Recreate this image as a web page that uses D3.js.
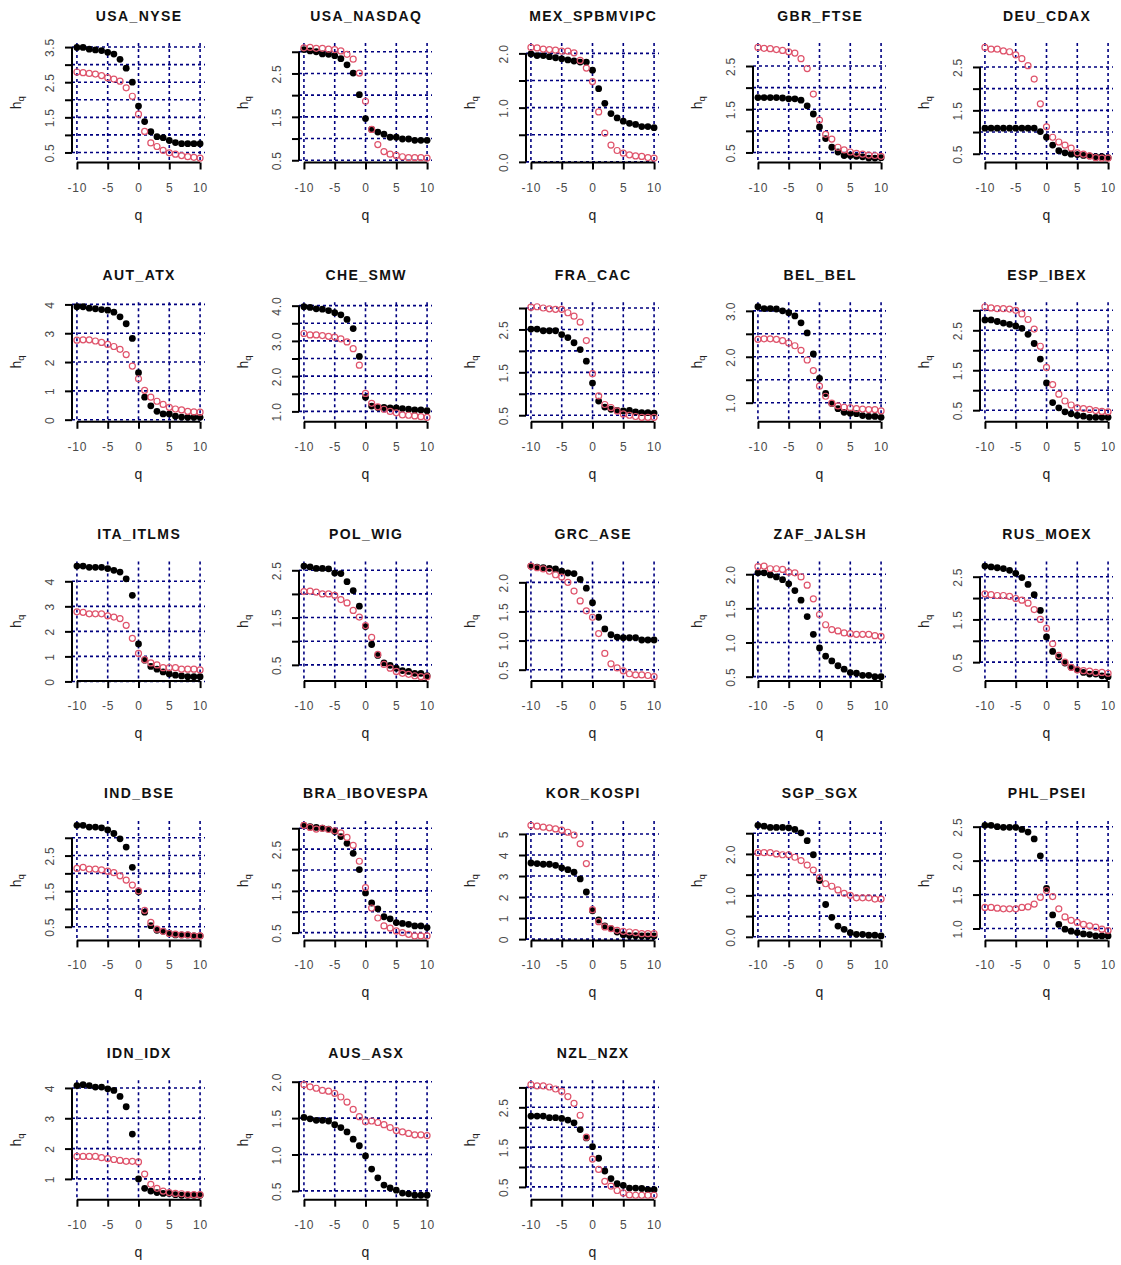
<!DOCTYPE html>
<html><head><meta charset="utf-8">
<script src="https://cdn.jsdelivr.net/npm/d3@7"></script>
<style>body{margin:0;background:#fff}</style>
</head><body>
<svg id="chart" width="1121" height="1265"></svg>
<script>
const qValues = [-10,-9,-8,-7,-6,-5,-4,-3,-2,-1,0,1,2,3,4,5,6,7,8,9,10];
const xTicks = [-10,-5,0,5,10];
const markets = ["USA_NYSE","USA_NASDAQ","MEX_SPBMVIPC","GBR_FTSE","DEU_CDAX","AUT_ATX","CHE_SMW","FRA_CAC","BEL_BEL","ESP_IBEX","ITA_ITLMS","POL_WIG","GRC_ASE","ZAF_JALSH","RUS_MOEX","IND_BSE","BRA_IBOVESPA","KOR_KOSPI","SGP_SGX","PHL_PSEI","IDN_IDX","AUS_ASX","NZL_NZX"];

const USA_NYSE_black = [3.49,3.49,3.44,3.42,3.40,3.35,3.30,3.15,2.90,2.50,1.82,1.38,1.09,0.95,0.92,0.84,0.78,0.75,0.75,0.75,0.75];
const USA_NYSE_red = [2.79,2.77,2.75,2.73,2.69,2.63,2.59,2.53,2.34,2.10,1.59,1.10,0.77,0.67,0.56,0.49,0.45,0.41,0.38,0.36,0.34];
const USA_NASDAQ_black = [3.05,3.02,3.00,2.95,2.94,2.91,2.84,2.70,2.51,2.01,1.46,1.21,1.15,1.10,1.03,1.03,0.99,0.99,0.96,0.96,0.96];
const USA_NASDAQ_red = [3.09,3.10,3.08,3.08,3.06,3.05,3.02,2.94,2.83,2.51,1.86,1.21,0.86,0.70,0.64,0.61,0.58,0.56,0.56,0.56,0.55];
const MEX_black = [1.99,1.96,1.96,1.94,1.92,1.90,1.88,1.86,1.84,1.84,1.69,1.35,1.08,0.89,0.81,0.75,0.71,0.69,0.65,0.65,0.63];
const MEX_red = [2.11,2.10,2.08,2.07,2.06,2.04,2.04,2.01,1.87,1.73,1.48,0.92,0.53,0.31,0.21,0.16,0.13,0.11,0.10,0.08,0.07];
const GBR_black = [1.77,1.77,1.77,1.77,1.76,1.74,1.74,1.71,1.58,1.39,1.09,0.82,0.62,0.51,0.43,0.43,0.41,0.40,0.37,0.37,0.38];
const GBR_red = [2.93,2.91,2.90,2.88,2.86,2.83,2.80,2.67,2.44,1.85,1.25,0.92,0.81,0.62,0.56,0.51,0.48,0.46,0.44,0.43,0.41];
const DEU_black = [1.09,1.09,1.09,1.09,1.09,1.09,1.09,1.09,1.09,1.01,0.88,0.70,0.57,0.52,0.49,0.48,0.46,0.45,0.43,0.43,0.41];
const DEU_red = [2.95,2.91,2.91,2.87,2.85,2.78,2.69,2.53,2.22,1.65,1.12,0.88,0.77,0.70,0.63,0.52,0.49,0.45,0.41,0.40,0.40];
const AUT_black = [3.92,3.92,3.87,3.85,3.82,3.80,3.73,3.57,3.33,2.82,1.63,0.78,0.48,0.29,0.20,0.20,0.12,0.09,0.08,0.08,0.08];
const AUT_red = [2.76,2.77,2.77,2.73,2.68,2.61,2.54,2.44,2.26,1.86,1.42,1.02,0.78,0.64,0.53,0.43,0.37,0.34,0.29,0.27,0.26];
const CHE_black = [3.97,3.95,3.91,3.90,3.86,3.80,3.74,3.61,3.35,2.56,1.40,1.15,1.11,1.11,1.10,1.10,1.08,1.06,1.04,1.04,1.02];
const CHE_red = [3.21,3.17,3.17,3.15,3.13,3.11,3.06,2.97,2.78,2.31,1.51,1.23,1.13,1.06,1.00,0.96,0.90,0.89,0.87,0.85,0.83];
const FRA_black = [2.51,2.51,2.47,2.47,2.47,2.38,2.31,2.19,2.03,1.76,1.25,0.83,0.69,0.64,0.61,0.60,0.61,0.58,0.56,0.56,0.55];
const FRA_red = [3.02,3.03,3.00,2.98,2.97,2.97,2.89,2.81,2.67,2.24,1.47,0.95,0.75,0.68,0.60,0.53,0.50,0.47,0.45,0.45,0.45];
const BEL_black = [3.09,3.05,3.05,3.04,3.00,2.96,2.89,2.74,2.52,2.06,1.53,1.20,0.98,0.87,0.79,0.77,0.76,0.72,0.70,0.70,0.68];
const BEL_red = [2.38,2.39,2.39,2.38,2.35,2.30,2.24,2.14,1.93,1.70,1.36,1.14,0.99,0.93,0.90,0.89,0.87,0.86,0.85,0.85,0.82];
const ESP_black = [2.76,2.76,2.72,2.68,2.65,2.61,2.55,2.40,2.17,1.78,1.18,0.69,0.56,0.46,0.41,0.37,0.35,0.32,0.32,0.32,0.32];
const ESP_red = [3.09,3.06,3.04,3.04,3.03,3.00,2.91,2.77,2.53,2.10,1.57,1.14,0.90,0.73,0.63,0.56,0.54,0.52,0.49,0.47,0.46];
const ITA_black = [4.61,4.61,4.56,4.56,4.56,4.51,4.44,4.37,4.10,3.44,1.50,0.85,0.60,0.49,0.38,0.30,0.25,0.22,0.19,0.19,0.19];
const ITA_red = [2.78,2.76,2.70,2.70,2.70,2.62,2.57,2.51,2.24,1.72,1.12,0.87,0.74,0.66,0.55,0.55,0.55,0.49,0.49,0.49,0.46];
const POL_black = [2.59,2.57,2.54,2.54,2.53,2.44,2.43,2.26,2.07,1.74,1.31,0.93,0.70,0.54,0.49,0.43,0.38,0.36,0.32,0.32,0.27];
const POL_red = [2.05,2.06,2.04,2.00,2.00,1.97,1.88,1.81,1.65,1.51,1.33,1.08,0.72,0.51,0.43,0.36,0.32,0.30,0.27,0.25,0.25];
const GRC_black = [2.28,2.26,2.25,2.24,2.23,2.19,2.16,2.15,2.05,1.90,1.65,1.40,1.20,1.10,1.06,1.05,1.05,1.05,1.01,1.01,1.01];
const GRC_red = [2.28,2.25,2.23,2.19,2.13,2.09,2.00,1.85,1.68,1.51,1.40,1.12,0.78,0.60,0.53,0.48,0.43,0.41,0.41,0.40,0.38];
const ZAF_black = [2.02,2.02,1.99,1.96,1.92,1.86,1.76,1.62,1.38,1.12,0.92,0.80,0.73,0.66,0.61,0.56,0.55,0.52,0.52,0.50,0.50];
const ZAF_red = [2.11,2.12,2.08,2.08,2.07,2.03,2.02,1.96,1.84,1.64,1.41,1.26,1.19,1.17,1.14,1.13,1.12,1.12,1.12,1.10,1.09];
const RUS_black = [2.75,2.73,2.71,2.69,2.65,2.58,2.48,2.32,2.08,1.71,1.09,0.75,0.62,0.48,0.38,0.32,0.26,0.22,0.22,0.18,0.16];
const RUS_red = [2.10,2.08,2.06,2.06,2.04,1.99,1.95,1.88,1.73,1.50,1.29,0.93,0.66,0.50,0.38,0.32,0.30,0.29,0.26,0.26,0.24];
const IND_black = [3.35,3.35,3.30,3.30,3.28,3.22,3.12,2.97,2.74,2.17,1.48,0.91,0.53,0.40,0.37,0.31,0.27,0.27,0.27,0.24,0.24];
const IND_red = [2.14,2.17,2.12,2.12,2.10,2.06,2.02,1.93,1.81,1.67,1.51,0.96,0.62,0.43,0.37,0.31,0.29,0.27,0.27,0.24,0.24];
const BRA_black = [3.07,3.04,3.02,3.00,2.98,2.92,2.80,2.64,2.40,2.01,1.45,1.21,1.07,0.88,0.83,0.74,0.72,0.70,0.66,0.66,0.62];
const BRA_red = [3.07,3.02,2.98,3.00,2.97,2.94,2.89,2.78,2.59,2.21,1.58,1.09,0.85,0.66,0.61,0.54,0.50,0.46,0.42,0.42,0.42];
const KOR_black = [3.62,3.59,3.56,3.56,3.51,3.39,3.30,3.18,2.86,2.24,1.35,0.91,0.63,0.50,0.34,0.21,0.17,0.16,0.15,0.15,0.15];
const KOR_red = [5.41,5.37,5.32,5.29,5.24,5.18,5.08,4.95,4.53,3.59,1.40,0.83,0.58,0.50,0.42,0.37,0.34,0.31,0.26,0.26,0.26];
const SGP_black = [2.69,2.67,2.64,2.64,2.64,2.63,2.59,2.51,2.32,1.98,1.36,0.78,0.47,0.26,0.18,0.10,0.06,0.06,0.04,0.04,0.02];
const SGP_red = [2.03,2.03,2.03,2.00,1.98,1.98,1.92,1.84,1.73,1.61,1.43,1.28,1.22,1.13,1.05,1.00,0.94,0.94,0.94,0.91,0.91];
const PHL_black = [2.52,2.52,2.50,2.49,2.49,2.49,2.46,2.42,2.32,2.07,1.59,1.20,1.06,0.99,0.96,0.94,0.92,0.91,0.89,0.89,0.89];
const PHL_red = [1.31,1.31,1.30,1.29,1.29,1.29,1.31,1.32,1.36,1.46,1.56,1.47,1.29,1.17,1.12,1.09,1.06,1.04,1.02,0.99,0.97];
const IDN_black = [4.08,4.11,4.08,4.03,4.03,3.97,3.92,3.72,3.38,2.48,1.00,0.69,0.60,0.55,0.52,0.52,0.48,0.46,0.46,0.46,0.46];
const IDN_red = [1.74,1.74,1.74,1.74,1.70,1.67,1.64,1.61,1.58,1.58,1.56,1.16,0.82,0.69,0.60,0.55,0.52,0.51,0.48,0.48,0.48];
const AUS_black = [1.51,1.49,1.47,1.47,1.46,1.41,1.37,1.31,1.21,1.12,0.98,0.80,0.68,0.58,0.54,0.51,0.47,0.46,0.44,0.44,0.44];
const AUS_red = [1.96,1.93,1.91,1.88,1.87,1.84,1.79,1.72,1.62,1.52,1.45,1.46,1.44,1.41,1.37,1.33,1.31,1.29,1.27,1.27,1.26];
const NZL_black = [2.28,2.28,2.28,2.24,2.24,2.22,2.18,2.11,1.94,1.73,1.51,1.22,0.90,0.71,0.58,0.54,0.47,0.47,0.46,0.43,0.43];
const NZL_red = [3.07,3.04,3.04,3.01,2.96,2.90,2.77,2.60,2.30,1.75,1.20,0.94,0.64,0.52,0.41,0.35,0.30,0.29,0.29,0.29,0.29];

// y-axis tick values and the tick labels shown (R drops overlapping labels)
const yTicksList = [
  [0.5,1,1.5,2,2.5,3,3.5], [0.5,1,1.5,2,2.5,3], [0,0.5,1,1.5,2], [0.5,1,1.5,2,2.5], [0.5,1,1.5,2,2.5],
  [0,1,2,3,4], [1,1.5,2,2.5,3,3.5,4], [0.5,1,1.5,2,2.5,3], [1,1.5,2,2.5,3], [0.5,1,1.5,2,2.5,3],
  [0,1,2,3,4], [0.5,1,1.5,2,2.5], [0.5,1,1.5,2], [0.5,1,1.5,2], [0.5,1,1.5,2,2.5],
  [0.5,1,1.5,2,2.5,3], [0.5,1,1.5,2,2.5,3], [0,1,2,3,4,5], [0,0.5,1,1.5,2,2.5], [1,1.5,2,2.5],
  [1,2,3,4], [0.5,1,1.5,2], [0.5,1,1.5,2,2.5,3]
];
const yLabelsList = [
  ["0.5","1.5","2.5","3.5"], ["0.5","1.5","2.5"], ["0.0","1.0","2.0"], ["0.5","1.5","2.5"], ["0.5","1.5","2.5"],
  ["0","1","2","3","4"], ["1.0","2.0","3.0","4.0"], ["0.5","1.5","2.5"], ["1.0","2.0","3.0"], ["0.5","1.5","2.5"],
  ["0","1","2","3","4"], ["0.5","1.5","2.5"], ["0.5","1.0","1.5","2.0"], ["0.5","1.0","1.5","2.0"], ["0.5","1.5","2.5"],
  ["0.5","1.5","2.5"], ["0.5","1.5","2.5"], ["0","1","2","3","4","5"], ["0.0","1.0","2.0"], ["1.0","1.5","2.0","2.5"],
  ["1","2","3","4"], ["0.5","1.0","1.5","2.0"], ["0.5","1.5","2.5"]
];

const blackSeries = [USA_NYSE_black,USA_NASDAQ_black,MEX_black,GBR_black,DEU_black,AUT_black,CHE_black,FRA_black,BEL_black,ESP_black,ITA_black,POL_black,GRC_black,ZAF_black,RUS_black,IND_black,BRA_black,KOR_black,SGP_black,PHL_black,IDN_black,AUS_black,NZL_black];
const redSeries = [USA_NYSE_red,USA_NASDAQ_red,MEX_red,GBR_red,DEU_red,AUT_red,CHE_red,FRA_red,BEL_red,ESP_red,ITA_red,POL_red,GRC_red,ZAF_red,RUS_red,IND_red,BRA_red,KOR_red,SGP_red,PHL_red,IDN_red,AUS_red,NZL_red];

const panels = markets.map((name, i) => ({
  name, black: blackSeries[i], red: redSeries[i], yTicks: yTicksList[i], yLabels: yLabelsList[i]
}));

const FONT = "'Liberation Sans', Arial, sans-serif";
const svg = d3.select("#chart").style("font-family", FONT);
const COL = 227, ROW = 259.3;
const PL = 72, PR = 205, PT = 43, PB = 162.5;
const GRID = "#000080", RED = "#DF536B";

panels.forEach((p, i) => {
  const c = i % 5, r = Math.floor(i / 5);
  const g = svg.append("g").attr("transform", `translate(${c * COL},${r * ROW})`);
  const x = d3.scaleLinear().domain([-10.8, 10.8]).range([PL, PR]);
  const [lo, hi] = d3.extent(p.black.concat(p.red));
  const pad = (hi - lo) * 0.04;
  const y = d3.scaleLinear().domain([lo - pad, hi + pad]).range([PB, PT]);

  // grid
  const grid = g.append("g").attr("stroke", GRID).attr("stroke-width", 1.6).attr("stroke-dasharray", "3,3");
  grid.selectAll("line.v").data(xTicks).join("line").attr("class", "v")
    .attr("x1", d => x(d)).attr("x2", d => x(d)).attr("y1", PT).attr("y2", PB);
  grid.selectAll("line.h").data(p.yTicks).join("line").attr("class", "h")
    .attr("x1", PL).attr("x2", PR).attr("y1", d => y(d)).attr("y2", d => y(d));

  // x axis
  const xa = g.append("g").attr("transform", `translate(0,${PB})`)
    .call(d3.axisBottom(x).tickValues(xTicks).tickSize(7).tickSizeOuter(0).tickFormat(d => String(d)));
  xa.select(".domain").remove();
  xa.append("line").attr("x1", x(xTicks[0])).attr("x2", x(xTicks[xTicks.length - 1]));
  xa.selectAll("line").attr("stroke", "#000").attr("stroke-width", 2);
  xa.selectAll("text").attr("y", 29).attr("dy", null)
    .attr("fill", "#4a4a4a").style("font-size", "12px").style("letter-spacing", "0.8px")
    .style("font-family", FONT);

  // y axis
  const labelSet = new Map(p.yLabels.map(s => [parseFloat(s), s]));
  const ya = g.append("g").attr("transform", `translate(${PL},0)`)
    .call(d3.axisLeft(y).tickValues(p.yTicks).tickSize(7).tickSizeOuter(0)
      .tickFormat(d => labelSet.has(d) ? labelSet.get(d) : ""));
  ya.select(".domain").remove();
  ya.append("line").attr("y1", y(p.yTicks[0])).attr("y2", y(p.yTicks[p.yTicks.length - 1]));
  ya.selectAll("line").attr("stroke", "#000").attr("stroke-width", 2);
  ya.selectAll("text").attr("transform", "rotate(-90)").attr("x", 0).attr("y", -18.5).attr("dy", null)
    .attr("text-anchor", "middle").attr("fill", "#4a4a4a").style("font-size", "12px").style("letter-spacing", "0.8px")
    .style("font-family", FONT);

  // points
  g.append("g").selectAll("circle").data(p.black).join("circle")
    .attr("cx", (d, k) => x(qValues[k])).attr("cy", d => y(d)).attr("r", 3.4).attr("fill", "#000");
  g.append("g").selectAll("circle").data(p.red).join("circle")
    .attr("cx", (d, k) => x(qValues[k])).attr("cy", d => y(d)).attr("r", 3)
    .attr("fill", "none").attr("stroke", RED).attr("stroke-width", 1.2);

  // title
  g.append("text").attr("x", (PL + PR) / 2 + 0.7).attr("y", 20.5).attr("text-anchor", "middle")
    .style("font-weight", "bold").style("font-size", "14px").style("letter-spacing", "1.4px")
    .attr("fill", "#111").text(p.name);
  // x label
  g.append("text").attr("x", (PL + PR) / 2).attr("y", 219.5).attr("text-anchor", "middle")
    .style("font-size", "14px").attr("fill", "#222").text("q");
  // y label h_q
  const yl = g.append("text").attr("transform", `translate(21,${(PT + PB) / 2}) rotate(-90)`)
    .attr("text-anchor", "middle").style("font-size", "14px").attr("fill", "#222");
  yl.append("tspan").text("h");
  yl.append("tspan").attr("dy", 3).style("font-size", "9.5px").text("q");
});
</script>
</body></html>
